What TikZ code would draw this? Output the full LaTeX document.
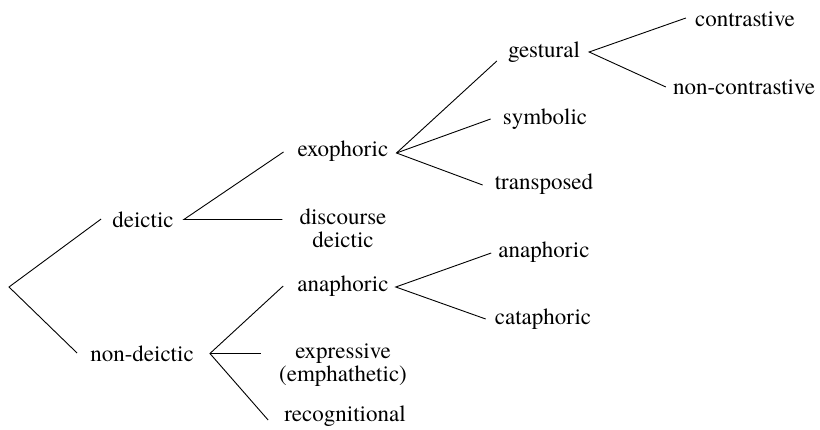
\documentclass[tikz,border=0pt]{standalone}
\usepackage{fontspec}
\setmainfont{TeX Gyre Termes}
\tikzset{
  lbl/.style={anchor=base, inner sep=0pt, align=center,
    font=\fontsize{23}{23.5}\selectfont},
  edge/.style={draw=black, line width=0.9pt}
}
\begin{document}
\begin{tikzpicture}[x=1pt,y=-1pt]
\useasboundingbox (0,0) rectangle (820,430);
\coordinate (root) at (9,287);
\node[lbl] (deictic) at (143,228) {deictic};
\node[lbl] (nondeictic) at (142,362) {non-deictic};
\node[lbl] (exophoric) at (343,157) {exophoric};
\node[lbl] (discourse) at (343,248) {discourse\\deictic};
\node[lbl] (anaphoricA) at (343,292) {anaphoric};
\node[lbl] (expressive) at (343,382) {expressive\\(emphathetic)};
\node[lbl] (recognitional) at (345,422) {recognitional};
\node[lbl] (gestural) at (544,58) {gestural};
\node[lbl] (symbolic) at (545,125) {symbolic};
\node[lbl] (transposed) at (544,190) {transposed};
\node[lbl] (anaphoricB) at (544,258) {anaphoric};
\node[lbl] (cataphoric) at (543,325) {cataphoric};
\node[lbl] (contrastive) at (745,27) {contrastive};
\node[lbl] (noncontrastive) at (744,95) {non-contrastive};
% first level
\draw[edge] ([shift={(-11pt,9pt)}]deictic.base west) -- (root) -- ([shift={(-13pt,9pt)}]nondeictic.base west);
% deictic branch
\draw[edge] ([shift={(-14pt,5pt)}]exophoric.base west) -- ([shift={(10pt,8.5pt)}]deictic.base east) -- ([shift={(-17pt,28.5pt)}]discourse.base west);
% exophoric branch
\draw[edge] ([shift={(-11pt,-3pt)}]gestural.base west) -- ([shift={(8pt,4pt)}]exophoric.base east) -- ([shift={(-12pt,5pt)}]transposed.base west);
\draw[edge] ([shift={(8pt,4pt)}]exophoric.base east) -- ([shift={(-12pt,6pt)}]symbolic.base west);
% gestural branch
\draw[edge] ([shift={(-9pt,9pt)}]contrastive.base west) -- ([shift={(9pt,6pt)}]gestural.base east) -- ([shift={(-7pt,8pt)}]noncontrastive.base west);
% non-deictic branch
\draw[edge] ([shift={(-14pt,6pt)}]anaphoricA.base west) -- ([shift={(16pt,8.5pt)}]nondeictic.base east) -- ([shift={(-16pt,2pt)}]recognitional.base west);
\draw[edge] ([shift={(16pt,8.5pt)}]nondeictic.base east) -- ([shift={(-18pt,28.5pt)}]expressive.base west);
% anaphoric branch
\draw[edge] ([shift={(-7pt,5pt)}]anaphoricB.base west) -- ([shift={(7pt,5pt)}]anaphoricA.base east) -- ([shift={(-9pt,6pt)}]cataphoric.base west);
\end{tikzpicture}
\end{document}
